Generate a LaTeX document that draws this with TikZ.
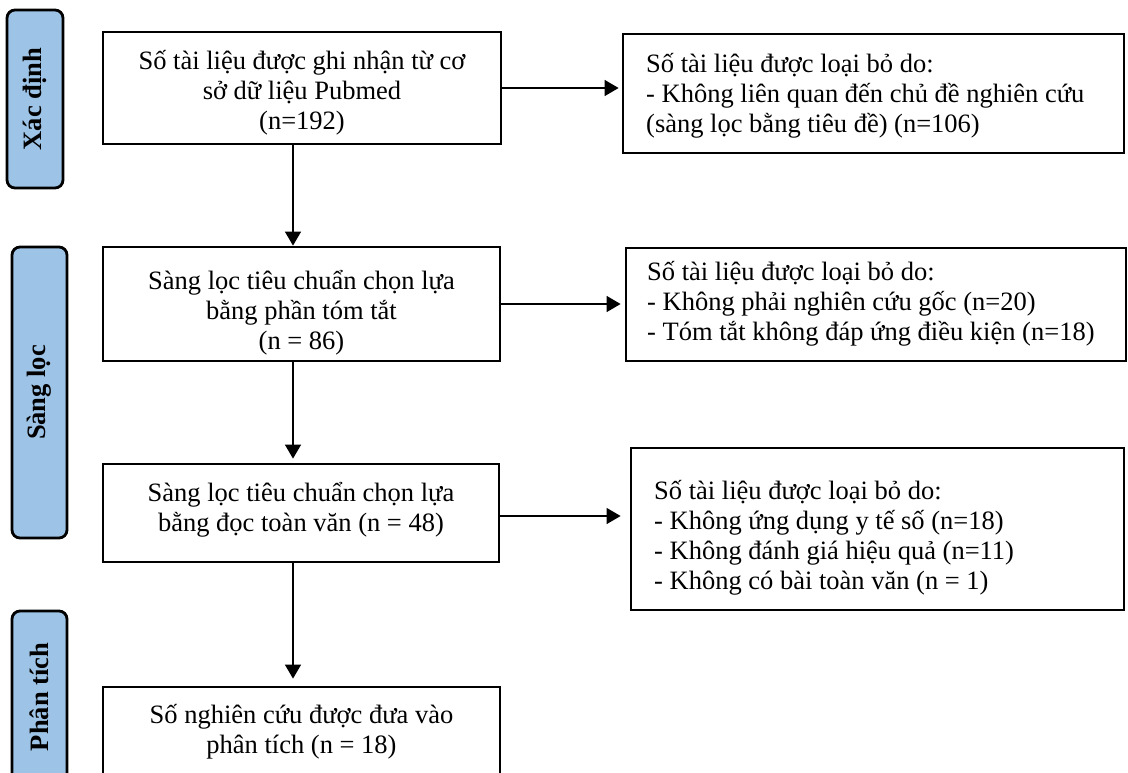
\documentclass[tikz,border=0pt]{standalone}
\usepackage{fontspec}
\setmainfont{Liberation Serif}
\usetikzlibrary{arrows.meta}
\definecolor{barblue}{RGB}{157,195,230}
\tikzset{
  box/.style={draw, line width=2.8pt, inner sep=0pt},
  txt/.style={inner sep=0pt, font=\fontsize{26.5}{30}\selectfont},
  ctxt/.style={txt, align=center},
  ltxt/.style={txt, align=left, anchor=west},
  bar/.style={draw, line width=2.8pt, fill=barblue, rounded corners=8pt, inner sep=0pt,
    rotate=90, font=\bfseries\fontsize{26.5}{30}\selectfont},
  arr/.style={line width=1.4pt, -{Triangle[length=14pt,width=16pt]}}
}
\begin{document}
\begin{tikzpicture}[x=1pt,y=-1pt]
\path[use as bounding box] (0,0) rectangle (1128,772);
\clip (0,0) rectangle (1128,772);
\fill[white] (0,0) rectangle (1128,772);

% side bars
\node[bar, minimum width=178pt, minimum height=56pt] (sx) at (35,99) {Xác định};
\node[bar, minimum width=291pt, minimum height=55pt] (ss) at (39.5,392.5) {Sàng lọc};
\node[bar, minimum width=172pt, minimum height=55pt] (sp) at (39.5,697) {Phân tích};

% main column boxes
\node[box, minimum width=398pt, minimum height=112pt] (b1) at (302,88) {};
\node[ctxt] (t1) at (302,93) {Số tài liệu được ghi nhận từ cơ\\sở dữ liệu Pubmed\\(n=192)};

\node[box, minimum width=397pt, minimum height=114pt] (b3) at (301.5,304) {};
\node[ctxt] (t3) at (301.5,313) {Sàng lọc tiêu chuẩn chọn lựa\\bằng phần tóm tắt\\(n = 86)};

\node[box, minimum width=396pt, minimum height=98pt] (b5) at (301,513) {};
\node[ctxt] (t5) at (301,510) {Sàng lọc tiêu chuẩn chọn lựa\\bằng đọc toàn văn (n = 48)};

\node[box, minimum width=397pt, minimum height=91pt] (b7) at (301.5,732.5) {};
\node[ctxt] (t7) at (301.5,732) {Số nghiên cứu được đưa vào\\phân tích (n = 18)};

% exclusion boxes
\node[box, minimum width=501pt, minimum height=119pt] (b2) at (873.5,93.5) {};
\node[ltxt] (t2) at (646,96) {Số tài liệu được loại bỏ do:\\- Không liên quan đến chủ đề nghiên cứu\\(sàng lọc bằng tiêu đề) (n=106)};

\node[box, minimum width=500pt, minimum height=113pt] (b4) at (876,304.5) {};
\node[ltxt] (t4) at (647,304) {Số tài liệu được loại bỏ do:\\- Không phải nghiên cứu gốc (n=20)\\- Tóm tắt không đáp ứng điều kiện (n=18)};

\node[box, minimum width=493pt, minimum height=162pt] (b6) at (877.5,529) {};
\node[ltxt] (t6) at (654,538) {Số tài liệu được loại bỏ do:\\- Không ứng dụng y tế số (n=18)\\- Không đánh giá hiệu quả (n=11)\\- Không có bài toàn văn (n = 1)};

% connectors
\draw[arr, shorten >=3pt] (b1.east) -- (b1.east -| b2.west);
\draw[arr, shorten >=4pt] (b3.east) -- (b3.east -| b4.west);
\draw[arr, shorten >=9pt] ([yshift=-3pt]b5.east) -- ([yshift=-3pt]b5.east -| b6.west);
\draw[arr] ([xshift=-9pt]b1.south) -- ([xshift=-8.5pt]b3.north);
\draw[arr, shorten >=4pt] ([xshift=-8.5pt]b3.south) -- ([xshift=-8pt]b5.north);
\draw[arr, shorten >=7pt] ([xshift=-8pt]b5.south) -- ([xshift=-8.5pt]b7.north);
\end{tikzpicture}
\end{document}
